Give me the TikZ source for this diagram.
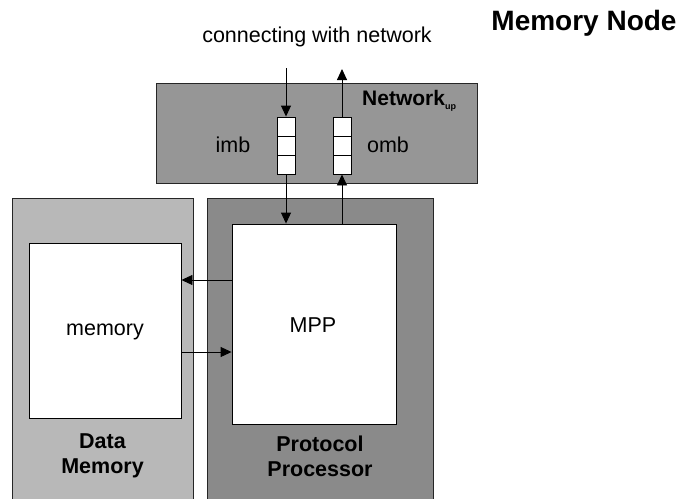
\documentclass[tikz,border=0pt]{standalone}
\usepackage{fontspec}
\setmainfont{Liberation Sans}
\usetikzlibrary{arrows.meta}
\definecolor{netfill}{gray}{0.59}
\definecolor{procfill}{gray}{0.54}
\definecolor{datafill}{gray}{0.72}
\tikzset{
  unit/.style={draw=black!85, line width=0.9pt, inner sep=0pt},
  cell/.style={draw=black, fill=white, line width=0.9pt, minimum width=18pt, minimum height=19pt, inner sep=0pt},
  inner/.style={draw=black, fill=white, line width=0.9pt, inner sep=0pt},
  txt/.style={font=\fontsize{21.5}{25}\selectfont, inner sep=0pt},
  btxt/.style={font=\fontsize{21.5}{25}\selectfont\bfseries, inner sep=0pt, align=center},
  arr/.style={draw=black, line width=0.9pt, -{Triangle[length=11pt,width=10pt]}}
}
\begin{document}
\begin{tikzpicture}[x=1pt,y=-1pt]
\useasboundingbox (0,0) rectangle (687,498);
\fill[white] (0,0) rectangle (687,498);
\begin{scope}
\clip (0,0) rectangle (687,498);
% outer units, running past the lower edge
\node[unit, fill=datafill, minimum width=181pt, minimum height=310pt] (data) at (102.5,353) {};
\node[unit, fill=procfill, minimum width=226pt, minimum height=310pt] (proc) at (320,353) {};
\end{scope}
\node[unit, fill=netfill, minimum width=321pt, minimum height=100pt] (net) at (316.5,133) {};

% inner blocks
\node[inner, minimum width=152pt, minimum height=175pt] (memory) at (105,330.5) {};
\node[inner, minimum width=164pt, minimum height=200pt] (mpp) at (314,324) {};
\node[txt] (memlbl) at (105,332) {memory};
\node[txt] (mpplbl) at (313,325) {MPP};

% message buffers
\node[cell] (imb1) at (286,126.5) {};
\node[cell] (imb2) at (286,145.5) {};
\node[cell] (imb3) at (286,164.5) {};
\node[cell] (omb1) at (342,126.5) {};
\node[cell] (omb2) at (342,145.5) {};
\node[cell] (omb3) at (342,164.5) {};
\node[txt] (imblbl) at (233,145) {imb};
\node[txt] (omblbl) at (388,145) {omb};

% titles
\node[txt] (conn) at (317,37) {connecting with network};
\node[txt, font=\fontsize{28}{32}\selectfont\bfseries] (title) at (584,23) {Memory Node};
\node[inner sep=0pt, anchor=base west, font=\fontsize{21}{25}\selectfont\bfseries] (netlbl) at (362,105) {Network\raisebox{-4pt}{\fontsize{9}{9}\selectfont up}};
\node[btxt] (datalbl) at (102.5,456) {Data\\Memory};
\node[btxt] (proclbl) at (320,456) {Protocol\\Processor};

% connections
\coordinate (inTop) at (286,68);
\coordinate (outTop) at (342,69);
\draw[arr] (inTop) -- (imb1.north);
\draw[arr] (imb3.south) -- (imb3.south |- mpp.north);
\draw[arr] (omb3.south |- mpp.north) -- (omb3.south);
\draw[arr] (omb1.north) -- (outTop);
\coordinate (rd) at ([yshift=44pt]mpp.west);
\coordinate (wr) at ([yshift=-28pt]mpp.west);
\draw[arr] (rd) -- (rd -| memory.east);
\draw[arr] (wr -| memory.east) -- (wr);
\end{tikzpicture}
\end{document}
